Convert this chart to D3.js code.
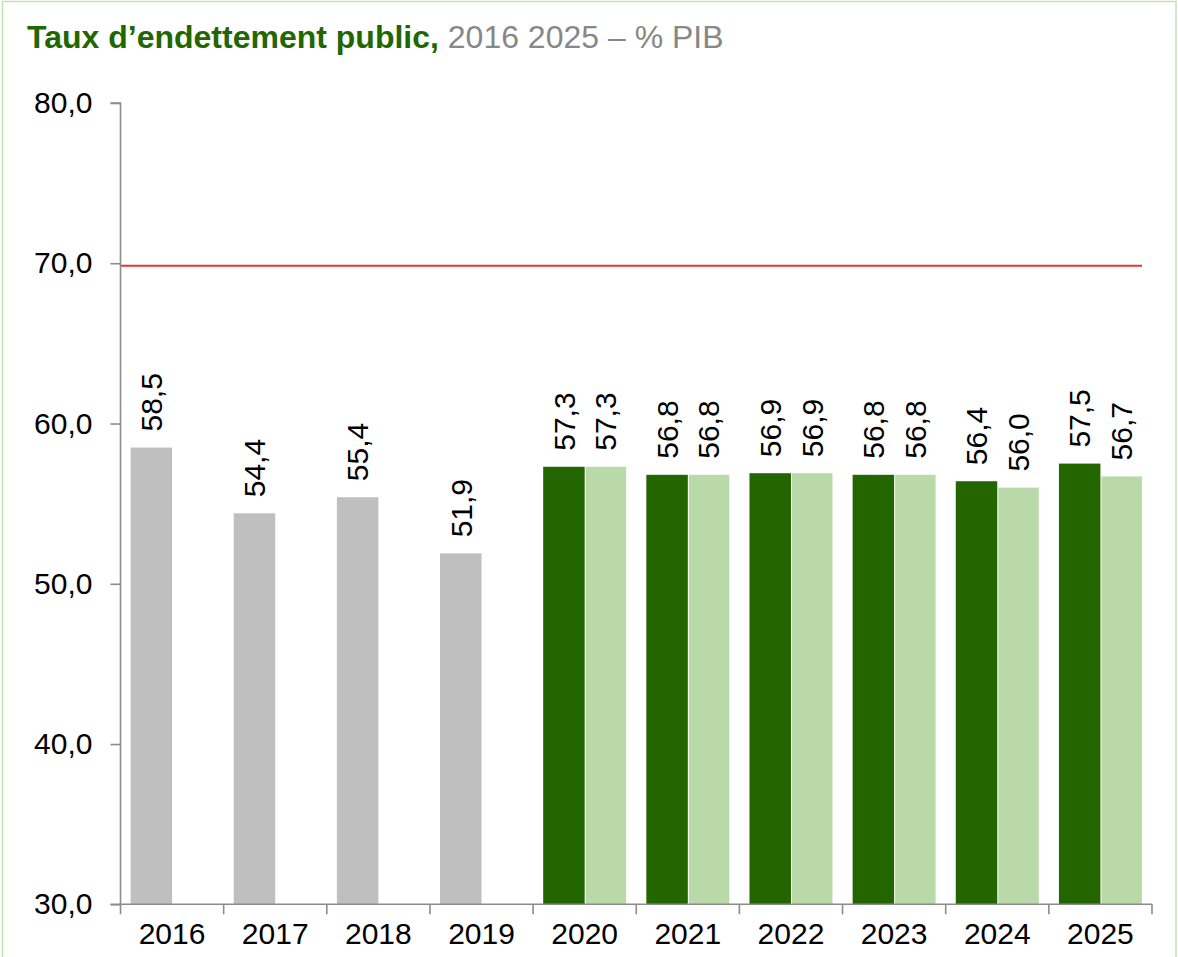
<!DOCTYPE html>
<html lang="fr">
<head>
<meta charset="utf-8">
<script src="https://cdn.jsdelivr.net/npm/d3@7"></script>
<style>
  html, body { margin: 0; padding: 0; background: #fff; }
  svg { display: block; font-family: "Liberation Sans", Arial, sans-serif; }
</style>
</head>
<body>
<svg id="chart" width="1178" height="957"></svg>
<script>
// Public debt ratio, % of GDP
const years = ["2016", "2017", "2018", "2019", "2020", "2021", "2022", "2023", "2024", "2025"];
// Outturn years (single grey bar)
const pastYears = ["2016", "2017", "2018", "2019"];
const pastValues = [58.5, 54.4, 55.4, 51.9];
// Forecast years: two estimates side by side
const forecastYears = ["2020", "2021", "2022", "2023", "2024", "2025"];
const estimateA = [57.3, 56.8, 56.9, 56.8, 56.4, 57.5];
const estimateB = [57.3, 56.8, 56.9, 56.8, 56.0, 56.7];
// Reference ceiling line
const ceiling = 69.85;
const yTicks = [30, 40, 50, 60, 70, 80];

(function () {
  const svg = d3.select("#chart");
  const W = 1178, H = 957;

  // frame
  svg.append("rect")
    .attr("x", 2.5).attr("y", 1.5)
    .attr("width", W - 4.5).attr("height", H + 10)
    .attr("fill", "none").attr("stroke", "#c6e0b5").attr("stroke-width", 1.5);

  // title
  const title = svg.append("text")
    .attr("x", 27).attr("y", 48)
    .style("font-size", "32px");
  title.append("tspan").attr("fill", "#226600").attr("font-weight", "bold")
    .text("Taux d\u2019endettement public,");
  title.append("tspan").attr("fill", "#878787")
    .text(" 2016 2025 \u2013 % PIB");

  const plotLeft = 120.5, plotRight = 1152, plotTop = 103, plotBottom = 904.3;

  const x = d3.scaleBand().domain(years).range([plotLeft, plotRight]).padding(0);
  const sub = d3.scaleBand().domain(["a", "b"]).range([0, x.bandwidth()])
    .paddingInner(0).paddingOuter(0.243);
  const y = d3.scaleLinear().domain([30, 80]).range([plotBottom, plotTop]);

  const fmt = v => d3.format(".1f")(v).replace(".", ",");

  // bars
  const gBars = svg.append("g");
  const pastData = pastYears.map((yr, i) => ({ yr, v: pastValues[i], k: "a", fill: "#bfbfbf" }));
  const fcData = [];
  forecastYears.forEach((yr, i) => {
    fcData.push({ yr, v: estimateA[i], k: "a", fill: "#236600" });
    fcData.push({ yr, v: estimateB[i], k: "b", fill: "#b9daa8" });
  });
  const allBars = pastData.concat(fcData);

  gBars.selectAll("rect").data(allBars).join("rect")
    .attr("x", d => x(d.yr) + sub(d.k) + (d.k === "b" ? 1 : 0))
    .attr("width", d => sub.bandwidth() - (d.k === "b" ? 1 : 0))
    .attr("y", d => y(d.v))
    .attr("height", d => y(30) - y(d.v))
    .attr("fill", d => d.fill);

  // value labels, rotated
  gBars.selectAll("text").data(allBars).join("text")
    .attr("transform", d => {
      const cx = x(d.yr) + sub(d.k) + sub.bandwidth() / 2;
      const cy = y(d.v) - 16;
      return `translate(${cx},${cy}) rotate(-90)`;
    })
    .attr("dy", "0.36em")
    .attr("text-anchor", "start")
    .style("font-size", "30px")
    .attr("fill", "#000")
    .text(d => fmt(d.v));

  // ceiling line
  svg.append("line")
    .attr("x1", plotLeft).attr("x2", 1142)
    .attr("y1", y(ceiling)).attr("y2", y(ceiling))
    .attr("stroke", "#e2372b").attr("stroke-width", 2);

  // y axis
  const yAxis = d3.axisLeft(y).tickValues(yTicks).tickSize(10).tickPadding(18).tickFormat(fmt);
  const gy = svg.append("g").attr("transform", `translate(${plotLeft},0)`).call(yAxis);
  gy.select(".domain").attr("stroke", "#8c8c8c").attr("stroke-width", 1.6)
    .attr("d", `M-10,${plotTop}H0V${plotBottom}`);
  gy.selectAll(".tick line").attr("stroke", "#8c8c8c").attr("stroke-width", 1.6);
  gy.selectAll(".tick text").style("font-size", "30px").attr("fill", "#000");
  gy.attr("font-family", null);

  // x axis: boundary ticks between categories
  const gx = svg.append("g").attr("transform", `translate(0,${plotBottom})`);
  gx.append("line").attr("x1", plotLeft - 10).attr("x2", plotRight)
    .attr("stroke", "#8c8c8c").attr("stroke-width", 1.6);
  const bounds = years.map(yr => x(yr)).concat([plotRight]);
  gx.selectAll(".bt").data(bounds).join("line")
    .attr("class", "bt")
    .attr("x1", d => d).attr("x2", d => d)
    .attr("y1", 0).attr("y2", 10)
    .attr("stroke", "#8c8c8c").attr("stroke-width", 1.6);
  gx.selectAll(".xl").data(years).join("text")
    .attr("class", "xl")
    .attr("x", d => x(d) + x.bandwidth() / 2)
    .attr("y", 40)
    .attr("text-anchor", "middle")
    .style("font-size", "30px")
    .attr("fill", "#000")
    .text(d => d);
})();
</script>
</body>
</html>
